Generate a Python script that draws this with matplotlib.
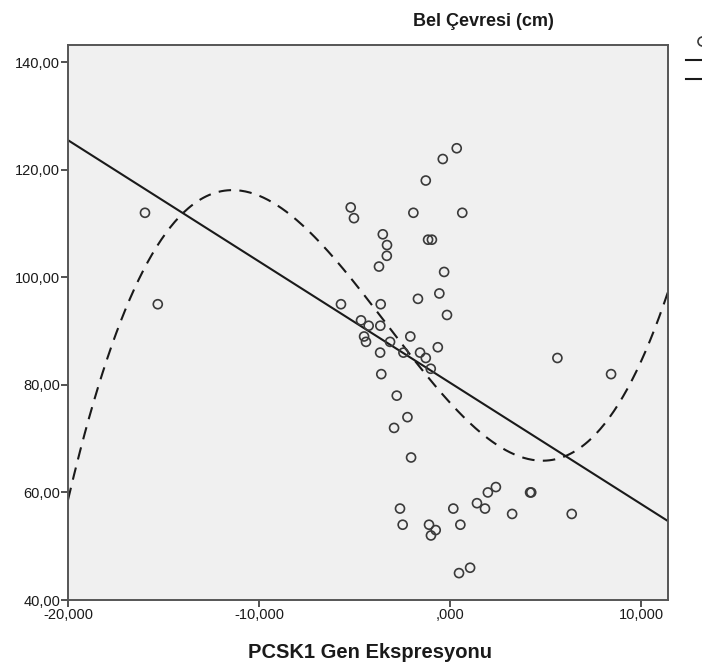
import numpy as np
import matplotlib.pyplot as plt
from matplotlib.lines import Line2D
from matplotlib.ticker import FuncFormatter

plt.rcParams['font.family'] = ['Liberation Sans', 'DejaVu Sans']

# PCSK1 expression vs waist circumference
pcsk1 = [-15.97, -15.30,
         0.35, -0.38, -1.27, -5.20, -5.03, -1.92, 0.64,
         -3.52, -3.30, -3.31, -3.72, -1.15, -0.95,
         -0.31, -0.56, -1.68, -0.16, -5.71, -3.63,
         -4.66, -4.26, -3.65, -4.50, -4.40, -3.14, -2.08,
         -3.66, -2.44, -1.57, -1.27, -1.01, -0.64,
         -3.60, -2.79, -2.23, -2.93, -2.04,
         -2.62, -2.48, -1.10, -0.75, -1.00, 0.17, 0.54, 0.47, 1.05,
         1.41, 1.83, 1.98, 2.40, 3.25, 4.19, 4.25, 6.37, 5.62, 8.43]
bel = [112, 95,
       124, 122, 118, 113, 111, 112, 112,
       108, 106, 104, 102, 107, 107,
       101, 97, 96, 93, 95, 95,
       92, 91, 91, 89, 88, 88, 89,
       86, 86, 86, 85, 83, 87,
       82, 78, 74, 72, 66.5,
       57, 54, 54, 53, 52, 57, 54, 45, 46,
       58, 57, 60, 61, 56, 60, 60, 56, 85, 82]

# fitted curves: coefficients in increasing power order
linear_coef = [80.4, -2.255]
cubic_coef = [76.67, -3.895, 0.2311, 0.02355]

x_min, x_max = -20, 11.41
y_min, y_max = 40, 143.2

fig = plt.figure(figsize=(7.02, 6.69), dpi=100)
ax = fig.add_axes([68 / 702, 1 - 600 / 669, 600 / 702, 555 / 669])
ax.set_facecolor('#f0f0f0')

ax.scatter(pcsk1, bel, s=42, facecolors='none', edgecolors='#3a3a3a',
           linewidths=1.2, zorder=3, label='Observed')

xs = np.linspace(x_min, x_max, 400)
ax.plot(xs, np.polynomial.polynomial.polyval(xs, linear_coef),
        color='#1a1a1a', lw=1.5, label='Linear')
ax.plot(xs, np.polynomial.polynomial.polyval(xs, cubic_coef),
        color='#1a1a1a', lw=1.5, dashes=(6, 4), label='Cubic')

ax.set_xlim(x_min, x_max)
ax.set_ylim(y_min, y_max)
ax.set_xticks([-20, -10, 0, 10])
ax.set_yticks([40, 60, 80, 100, 120, 140])


def fmt_x(v, pos):
    s = f"{v:.3f}".replace('.', ',')
    return s.replace('0,', ',', 1) if s.startswith('0,') else s


ax.xaxis.set_major_formatter(FuncFormatter(fmt_x))
ax.yaxis.set_major_formatter(FuncFormatter(lambda v, p: f"{v:.2f}".replace('.', ',')))
ax.tick_params(axis='both', labelsize=10.5, color='#333333', length=5,
               width=1.2, pad=0.5, labelcolor='#1a1a1a')

for sp in ax.spines.values():
    sp.set_color('#555555')
    sp.set_linewidth(1.4)

fig.text(483 / 702, 1 - 21 / 669, 'Bel Çevresi (cm)', ha='center', va='center',
         fontsize=13, fontweight='bold', color='#1a1a1a')
fig.text(370 / 702, 1 - 652 / 669, 'PCSK1 Gen Ekspresyonu', ha='center', va='center',
         fontsize=14.5, fontweight='bold', color='#1a1a1a')

# legend runs past the right edge of the figure
handles = [Line2D([], [], ls='none', marker='o', markersize=6.5, mfc='none',
                  mec='#3a3a3a', mew=1.2),
           Line2D([], [], color='#1a1a1a', lw=1.5),
           Line2D([], [], color='#1a1a1a', lw=1.5)]
fig.legend(handles, ['Observed', 'Linear', 'Cubic'], loc='upper left',
           bbox_to_anchor=(686 / 702, 1 - 35 / 669), frameon=False,
           fontsize=10.5, handlelength=2.2, labelspacing=0.35,
           borderaxespad=0, borderpad=0)

fig.savefig('out.png', dpi=100)
